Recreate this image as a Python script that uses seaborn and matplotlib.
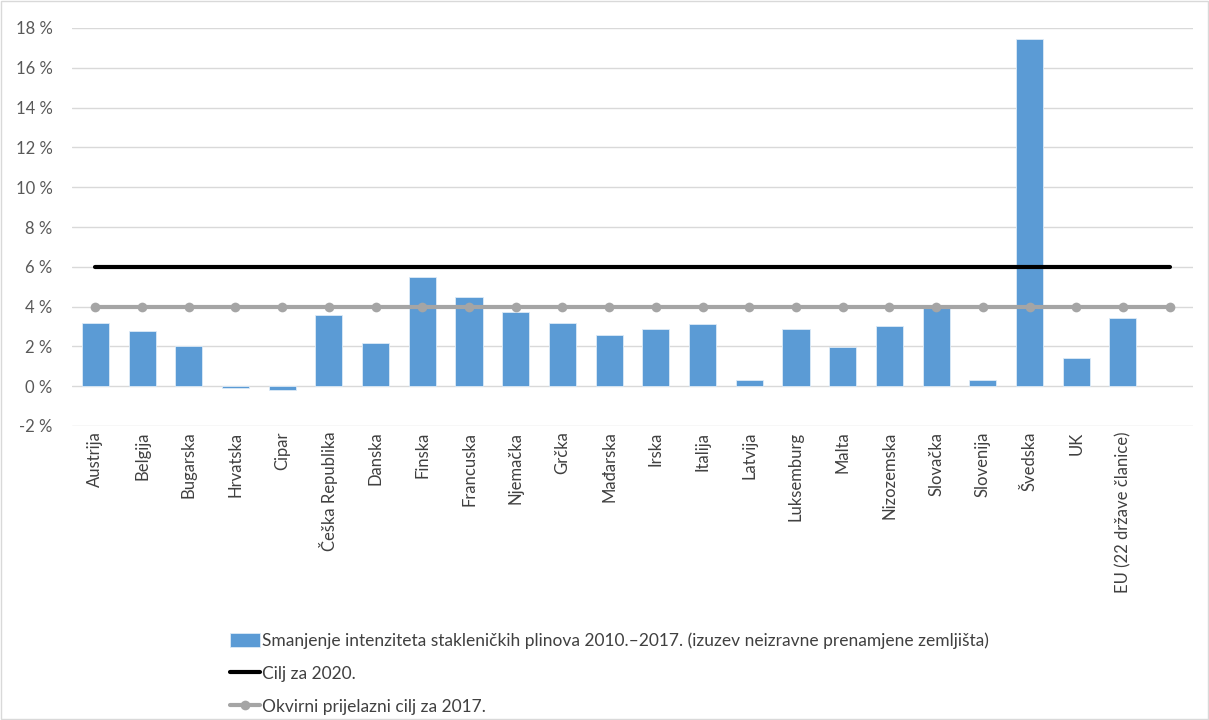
import matplotlib
matplotlib.use("Agg")
import matplotlib.pyplot as plt
import seaborn as sns
import pandas as pd
import numpy as np
from matplotlib.patches import Rectangle

categories = ["Austrija", "Belgija", "Bugarska", "Hrvatska", "Cipar", "Češka Republika",
              "Danska", "Finska", "Francuska", "Njemačka", "Grčka", "Mađarska", "Irska",
              "Italija", "Latvija", "Luksemburg", "Malta", "Nizozemska", "Slovačka",
              "Slovenija", "Švedska", "UK", "EU (22 države članice)", " "]
reduction = [3.19, 2.77, 2.01, -0.08, -0.2, 3.60, 2.19, 5.48, 4.49, 3.72, 3.19, 2.59, 2.89,
             3.14, 0.32, 2.89, 1.96, 3.01, 3.92, 0.32, 17.44, 1.43, 3.42, np.nan]
target_2020 = [6.0] * 24
interim_2017 = [4.0] * 24

label_bar = "Smanjenje intenziteta stakleničkih plinova 2010.–2017. (izuzev neizravne prenamjene zemljišta)"
label_2020 = "Cilj za 2020."
label_2017 = "Okvirni prijelazni cilj za 2017."
yticks = list(range(-2, 19, 2))

df = pd.DataFrame({"cat": categories, "val": reduction,
                   "t2020": target_2020, "t2017": interim_2017})

sns.set_theme(style="white")
plt.rcParams["font.family"] = ["Lato", "DejaVu Sans"]

fig = plt.figure(figsize=(12.09, 7.2), dpi=100)
ax = fig.add_axes([72 / 1209, 1 - 426 / 720, (1193 - 72) / 1209, (426 - 28) / 720])

sns.barplot(data=df, x="cat", y="val", order=categories, color="#5B9BD5",
            saturation=1, width=0.58, ax=ax, label=label_bar, zorder=2,
            edgecolor="#DDEBF7", linewidth=0.6)
sns.lineplot(data=df, x="cat", y="t2020", color="black", linewidth=3, ax=ax,
             label=label_2020, zorder=3)
sns.lineplot(data=df, x="cat", y="t2017", color="#A5A5A5", linewidth=3, marker="o",
             markersize=7, markeredgewidth=0, ax=ax, label=label_2017, zorder=4)

ax.set_xlim(-0.5, len(categories) - 0.5)
ax.set_ylim(-2, 18)
ax.set_yticks(yticks)
ax.set_yticklabels([f"{t} %" for t in yticks], fontsize=12, color="#595959")
ax.grid(axis="y", color="#D9D9D9", linewidth=1, zorder=0)
ax.set_axisbelow(True)
ax.tick_params(axis="x", labelrotation=90, labelsize=12, labelcolor="#404040", length=0, pad=4)
ax.tick_params(axis="y", length=0, pad=14)
for lab in ax.get_xticklabels():
    lab.set_verticalalignment("top")
ax.set_xlabel("")
ax.set_ylabel("")
for s in ax.spines.values():
    s.set_visible(False)

handles, labels = ax.get_legend_handles_labels()
order = [labels.index(label_bar), labels.index(label_2020), labels.index(label_2017)]
ax.legend([handles[i] for i in order], [labels[i] for i in order],
          loc="upper left", bbox_to_anchor=(214 / 1209, 1 - 617 / 720),
          bbox_transform=fig.transFigure, frameon=False, fontsize=12.5,
          handlelength=1.75, handleheight=0.9, handletextpad=0.1, labelspacing=0.95,
          labelcolor="#404040")

fig.patches.append(Rectangle((0.001, 0.001), 0.998, 0.998, transform=fig.transFigure,
                             fill=False, edgecolor="#D9D9D9", linewidth=1))

fig.savefig("out.png", dpi=100)
